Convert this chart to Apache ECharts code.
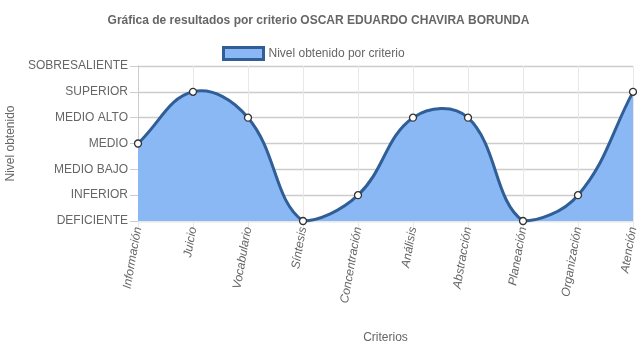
<!DOCTYPE html>
<html><head><meta charset="utf-8">
<script src="https://cdn.jsdelivr.net/npm/echarts@6/dist/echarts.min.js"></script>
<style>html,body{margin:0;padding:0;background:#fff}#c{width:637px;height:348px}</style>
</head><body><div id="c"></div>
<script>
const categories = ['Información','Juicio','Vocabulario','Síntesis','Concentración','Análisis','Abstracción','Planeación','Organización','Atención'];
const levels = ['DEFICIENTE','INFERIOR','MEDIO BAJO','MEDIO','MEDIO ALTO','SUPERIOR','SOBRESALIENTE'];
const values = [3,5,4,0,1,4,4,0,1,5];
const seriesName = 'Nivel obtenido por criterio';
const titleText = 'Gráfica de resultados por criterio OSCAR EDUARDO CHAVIRA BORUNDA';

const LINE = '#2f5f96', FILL = '#89b8f4';
const FONT = 'Liberation Sans, Arial, sans-serif';
const TENSION = 0.4;

function splinePath(pts, area){
  const clamp=(v,a,b)=>Math.max(a,Math.min(b,v));
  const cap=q=>[clamp(q[0],area.x,area.x+area.width),clamp(q[1],area.y,area.y+area.height)];
  const cps = pts.map((p,i)=>{
    const prev = pts[i-1]||p, next = pts[i+1]||p;
    const d01 = Math.hypot(p[0]-prev[0], p[1]-prev[1]);
    const d12 = Math.hypot(next[0]-p[0], next[1]-p[1]);
    let s01 = d01/(d01+d12), s12 = d12/(d01+d12);
    if(!isFinite(s01)) s01=0; if(!isFinite(s12)) s12=0;
    const fa = TENSION*s01, fb = TENSION*s12;
    return {
      prev:cap([p[0]-fa*(next[0]-prev[0]), p[1]-fa*(next[1]-prev[1])]),
      next:cap([p[0]+fb*(next[0]-prev[0]), p[1]+fb*(next[1]-prev[1])])
    };
  });
  let d = 'M'+pts[0][0]+' '+pts[0][1];
  for(let i=1;i<pts.length;i++){
    const a=cps[i-1].next, b=cps[i].prev, p=pts[i];
    d += ' C'+a[0]+' '+a[1]+' '+b[0]+' '+b[1]+' '+p[0]+' '+p[1];
  }
  return d;
}

const chart = echarts.init(document.getElementById('c'), null, {renderer:'canvas'});
chart.setOption({
  animation:false,
  textStyle:{fontFamily:FONT},
  title:{text:titleText,left:'center',top:10,textStyle:{fontSize:12,fontWeight:'bold',color:'#666',fontFamily:FONT}},
  legend:{top:41,left:217,itemWidth:40,itemHeight:12,itemGap:5,textStyle:{fontSize:12,color:'#666',fontFamily:FONT},
    data:[{name:seriesName,icon:'rect',itemStyle:{color:FILL,borderColor:LINE,borderWidth:3}}]},
  grid:{left:138,right:4,top:66,bottom:127,containLabel:false,outerBoundsMode:'none'},
  xAxis:{type:'category',data:categories,boundaryGap:false,
    name:'Criterios',nameLocation:'middle',nameGap:111,nameTextStyle:{fontSize:12,color:'#666'},
    axisLine:{show:true,lineStyle:{color:'#e8e8e8'}},
    axisTick:{show:true,length:8,lineStyle:{color:'#e8e8e8'}},
    axisLabel:{rotate:80,fontSize:12,fontStyle:'italic',color:'#666',margin:6,interval:0},
    splitLine:{show:true,lineStyle:{color:'#e8e8e8'}}},
  yAxis:{type:'value',min:0,max:6,interval:1,
    name:'Nivel obtenido',nameLocation:'middle',nameGap:108,nameTextStyle:{fontSize:12,color:'#666'},
    axisLine:{show:true,lineStyle:{color:'#cccccc'}},
    axisTick:{show:true,length:8,lineStyle:{color:'#cccccc'}},
    axisLabel:{fontSize:12,color:'#666',margin:10,formatter:v=>levels[v]},
    splitLine:{show:true,lineStyle:{color:'#cccccc',width:1.3}}},
  series:[
    {name:seriesName,type:'custom',coordinateSystem:'cartesian2d',
     data:values.map((v,i)=>[i,v]),
     encode:{x:0,y:1},
     renderItem:function(params, api){
       if(params.dataIndex!==0) return {type:'group',children:[]};
       const pts = values.map((v,i)=>api.coord([i,v]));
       const base = api.coord([0,0])[1];
       const area = params.coordSys;
       const curve = splinePath(pts, area);
       const last = pts[pts.length-1];
       const fillPath = curve+' L'+last[0]+' '+base+' L'+pts[0][0]+' '+base+' Z';
       return {type:'group',children:[
         {type:'path',shape:{pathData:fillPath},style:{fill:FILL,stroke:null}},
         {type:'path',shape:{pathData:curve},style:{fill:null,stroke:LINE,lineWidth:3}}
       ]};
     }, z:2},
    {name:seriesName,type:'scatter',data:values.map((v,i)=>[i,v]),symbol:'circle',symbolSize:7,
     itemStyle:{color:'#fff',borderColor:'#333',borderWidth:1.3,opacity:1},z:3,silent:true}
  ]
});
</script></body></html>
